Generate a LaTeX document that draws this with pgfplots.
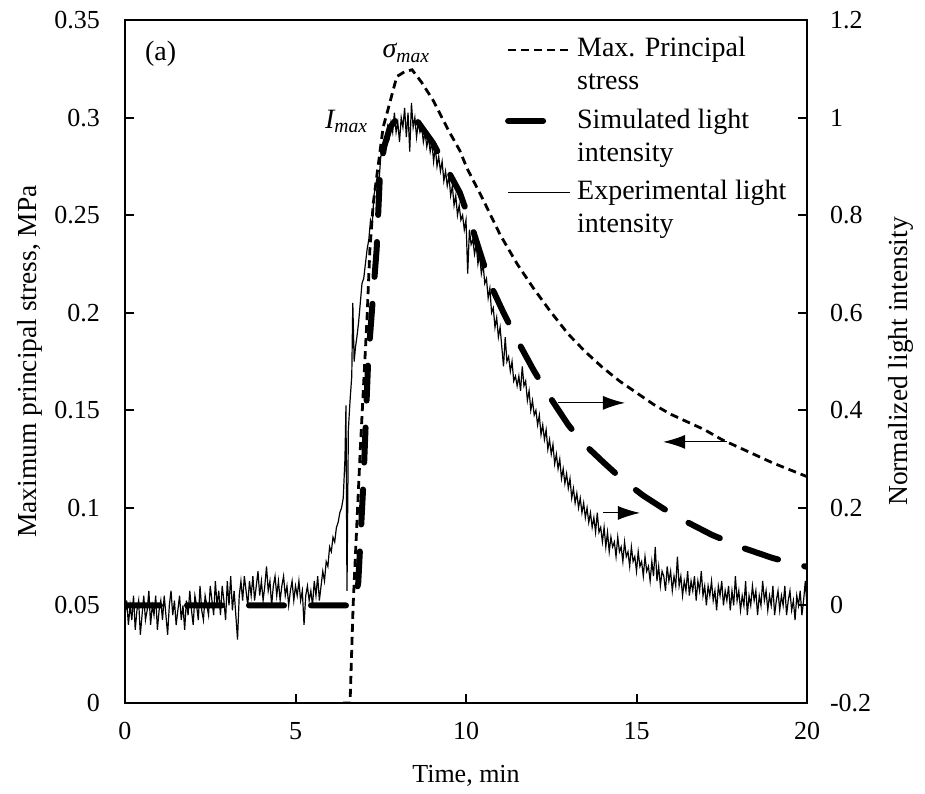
\documentclass[border=0pt]{standalone}
\usepackage{fontspec}
\setmainfont{Liberation Serif}
\usepackage{pgfplots}
\usepackage{pgfplotstable}
\pgfplotsset{compat=1.18}
\usetikzlibrary{arrows.meta}

\pgfplotstableread{
t s
6.40 0.0
6.60 0.0
6.69 0.05
6.90 0.13
7.10 0.198
7.18 0.232
7.28 0.256
7.57 0.295
7.71 0.304
7.97 0.321
8.20 0.3235
8.42 0.3245
8.70 0.318
9.03 0.309
9.50 0.293
9.82 0.283
10.03 0.274
10.50 0.258
11.00 0.240
11.50 0.225
11.96 0.213
12.46 0.201
13.00 0.189
13.50 0.180
14.00 0.172
14.50 0.165
15.00 0.159
15.50 0.153
16.00 0.148
16.50 0.144
17.00 0.140
17.50 0.135
18.00 0.131
18.50 0.127
19.00 0.123
19.50 0.1195
20.00 0.116
}\stress

\pgfplotstableread{
t I
0.00 0
6.70 0
6.84 0.046
6.99 0.25
7.13 0.50
7.28 0.64
7.38 0.73
7.48 0.89
7.60 0.94
7.77 0.98
8.00 1.00
8.30 1.005
8.60 0.99
9.03 0.948
9.40 0.90
9.82 0.846
10.20 0.77
10.70 0.66
11.10 0.60
11.50 0.544
12.00 0.48
12.46 0.427
13.00 0.37
13.43 0.333
14.02 0.294
14.60 0.257
15.20 0.225
15.80 0.198
16.48 0.171
17.20 0.145
18.12 0.118
19.00 0.097
20.00 0.079
}\simul

\pgfplotstableread{
t I
0.00 -0.02
0.05 0.01
0.10 -0.04
0.15 0.00
0.20 -0.03
0.25 0.02
0.30 -0.05
0.35 -0.01
0.40 0.01
0.45 -0.06
0.50 -0.02
0.55 0.02
0.60 -0.03
0.65 -0.01
0.70 0.03
0.75 -0.04
0.80 0.00
0.85 -0.02
0.90 0.02
0.95 -0.05
1.00 -0.01
1.05 0.01
1.10 -0.03
1.15 0.02
1.20 -0.02
1.25 -0.06
1.30 0.00
1.35 0.03
1.40 -0.02
1.45 0.01
1.50 -0.04
1.55 -0.01
1.60 0.02
1.65 -0.03
1.70 0.00
1.75 -0.05
1.80 0.01
1.85 -0.02
1.90 0.03
1.95 -0.01
2.00 -0.04
2.05 0.02
2.10 0.00
2.15 -0.03
2.20 0.04
2.25 -0.01
2.30 -0.03
2.35 0.02
2.40 0.00
2.45 -0.02
2.50 0.04
2.55 0.01
2.60 -0.02
2.65 0.05
2.70 0.00
2.75 0.03
2.80 -0.02
2.85 0.04
2.90 0.01
2.95 -0.03
3.00 0.05
3.05 0.00
3.10 0.06
3.15 -0.01
3.20 0.03
3.25 -0.02
3.30 -0.07
3.35 0.02
3.40 0.05
3.45 0.01
3.50 0.06
3.55 0.03
3.60 0.00
3.65 0.05
3.70 0.02
3.75 0.06
3.80 0.01
3.85 0.04
3.90 0.07
3.95 0.02
4.00 0.05
4.05 0.01
4.10 0.04
4.15 0.08
4.20 0.03
4.25 0.05
4.30 0.00
4.35 0.04
4.40 0.06
4.45 0.02
4.50 0.05
4.55 0.01
4.60 0.04
4.65 0.06
4.70 0.02
4.75 0.04
4.80 0.00
4.85 0.03
4.90 0.05
4.95 0.01
5.00 0.04
5.05 0.02
5.10 0.05
5.15 0.01
5.20 0.03
5.25 -0.04
5.30 0.02
5.35 0.04
5.40 0.01
5.45 0.03
5.50 0.00
5.55 0.05
5.60 0.02
5.65 0.06
5.70 0.01
5.75 0.04
5.80 0.07
5.85 0.05
5.90 0.09
5.95 0.08
6.00 0.12
6.05 0.11
6.10 0.14
6.15 0.13
6.20 0.16
6.25 0.17
6.30 0.19
6.35 0.20
6.40 0.22
6.45 0.30
6.48 0.41
6.51 0.03
6.55 0.36
6.60 0.42
6.65 0.47
6.68 0.62
6.72 0.50
6.76 0.53
6.80 0.55
6.85 0.58
6.90 0.62
6.95 0.66
7.00 0.67
7.05 0.70
7.10 0.73
7.15 0.75
7.20 0.79
7.25 0.78
7.30 0.84
7.35 0.86
7.40 0.88
7.45 0.87
7.50 0.92
7.55 0.93
7.60 0.95
7.65 0.94
7.70 0.98
7.75 0.96
7.80 0.99
7.85 0.97
7.90 1.01
7.95 0.97
8.00 0.99
8.05 0.95
8.10 1.00
8.15 0.98
8.20 1.02
8.25 0.96
8.30 1.01
8.35 0.93
8.40 1.03
8.45 0.98
8.50 1.00
8.55 0.96
8.60 0.99
8.65 0.97
8.70 0.98
8.75 0.95
8.80 0.97
8.85 0.94
8.90 0.96
8.95 0.93
9.00 0.95
9.05 0.91
9.10 0.94
9.15 0.90
9.20 0.92
9.25 0.89
9.30 0.91
9.35 0.87
9.40 0.89
9.45 0.86
9.50 0.88
9.55 0.84
9.60 0.86
9.65 0.82
9.70 0.84
9.75 0.80
9.80 0.82
9.85 0.79
9.90 0.80
9.95 0.77
10.00 0.79
10.05 0.68
10.10 0.77
10.15 0.74
10.20 0.75
10.25 0.72
10.30 0.74
10.35 0.70
10.40 0.72
10.45 0.68
10.50 0.70
10.55 0.66
10.60 0.67
10.65 0.63
10.70 0.65
10.75 0.60
10.80 0.61
10.85 0.57
10.90 0.59
10.95 0.55
11.00 0.57
11.05 0.53
11.10 0.49
11.15 0.55
11.20 0.50
11.25 0.51
11.30 0.48
11.35 0.50
11.40 0.46
11.45 0.47
11.50 0.45
11.55 0.47
11.60 0.44
11.65 0.49
11.70 0.45
11.75 0.46
11.80 0.42
11.85 0.44
11.90 0.40
11.95 0.42
12.00 0.39
12.05 0.40
12.10 0.37
12.15 0.39
12.20 0.35
12.25 0.37
12.30 0.34
12.35 0.36
12.40 0.32
12.45 0.34
12.50 0.31
12.55 0.33
12.60 0.29
12.65 0.31
12.70 0.28
12.75 0.30
12.80 0.26
12.85 0.28
12.90 0.25
12.95 0.27
13.00 0.24
13.05 0.26
13.10 0.22
13.15 0.24
13.20 0.21
13.25 0.23
13.30 0.20
13.35 0.22
13.40 0.19
13.45 0.21
13.50 0.18
13.55 0.20
13.60 0.17
13.65 0.19
13.70 0.16
13.75 0.18
13.80 0.15
13.85 0.19
13.90 0.15
13.95 0.16
14.00 0.13
14.05 0.16
14.10 0.12
14.15 0.15
14.20 0.11
14.25 0.14
14.30 0.12
14.35 0.13
14.40 0.10
14.45 0.14
14.50 0.11
14.55 0.12
14.60 0.09
14.65 0.13
14.70 0.10
14.75 0.11
14.80 0.08
14.85 0.12
14.90 0.09
14.95 0.10
15.00 0.07
15.05 0.11
15.10 0.08
15.15 0.09
15.20 0.06
15.25 0.10
15.30 0.07
15.35 0.08
15.40 0.05
15.45 0.09
15.50 0.06
15.55 0.12
15.60 0.05
15.65 0.08
15.70 0.04
15.75 0.07
15.80 0.06
15.85 0.03
15.90 0.08
15.95 0.05
16.00 0.07
16.05 0.03
16.10 0.06
16.15 0.04
16.20 0.10
16.25 0.04
16.30 0.06
16.35 0.02
16.40 0.05
16.45 0.03
16.50 0.07
16.55 0.02
16.60 0.05
16.65 0.03
16.70 0.06
16.75 0.01
16.80 0.05
16.85 0.03
16.90 0.07
16.95 0.02
17.00 0.04
17.05 0.00
17.10 0.04
17.15 0.02
17.20 0.05
17.25 0.01
17.30 0.03
17.35 -0.01
17.40 0.04
17.45 0.02
17.50 0.05
17.55 0.00
17.60 0.03
17.65 0.01
17.70 0.04
17.75 -0.01
17.80 0.03
17.85 0.00
17.90 0.06
17.95 0.01
18.00 0.03
18.05 -0.01
18.10 0.02
18.15 0.00
18.20 0.05
18.25 -0.02
18.30 0.02
18.35 0.00
18.40 0.04
18.45 0.01
18.50 0.03
18.55 -0.02
18.60 0.02
18.65 0.00
18.70 0.05
18.75 0.01
18.80 0.03
18.85 -0.01
18.90 0.02
18.95 0.00
19.00 0.04
19.05 -0.02
19.10 0.01
19.15 0.03
19.20 -0.01
19.25 0.02
19.30 0.00
19.35 0.04
19.40 -0.02
19.45 0.01
19.50 0.03
19.55 -0.01
19.60 0.01
19.65 -0.03
19.70 0.02
19.75 0.00
19.80 0.03
19.85 -0.02
19.90 0.01
19.95 0.05
20.00 0.00
}\expdata

\begin{document}
\begin{tikzpicture}[font=\fontsize{13}{16.5}\selectfont]
\pgfplotsset{
  common/.style={
    scale only axis, width=341pt, height=341.5pt,
    xmin=0, xmax=20,
    tick align=inside,
    major tick length=4.5pt,
    tick style={line width=1pt, black},
    axis line style={line width=1.2pt},
    every tick label/.append style={font=\fontsize{13}{15}\selectfont},
    label style={font=\fontsize{13.75}{16}\selectfont},
  },
}
\begin{axis}[common, name=main,
  ymin=0, ymax=0.35,
  xtick={0,5,10,15,20}, xticklabels={0,5,10,15,20},
  ytick={0,0.05,0.1,0.15,0.2,0.25,0.3,0.35},
  yticklabels={0,0.05,0.1,0.15,0.2,0.25,0.3,0.35},
  xtick pos=bottom, ytick pos=left,
  xticklabel style={yshift=-6pt},
  yticklabel style={xshift=-9pt},
  xlabel={Time, min},
  ylabel={Maximum principal stress, MPa},
  xlabel style={at={(axis description cs:0.5,-0.116)}, anchor=base, font=\fontsize{13}{15}\selectfont},
  ylabel style={at={(axis description cs:-0.139,0.5)}, anchor=center},
]
\addplot[black, line width=1.4pt, dash pattern=on 4pt off 2.5pt] table[x=t,y=s] {\stress};
\node[anchor=base west, font=\fontsize{14}{16}\selectfont] at (axis cs:0.38,0.329) {(a)};
\node[anchor=base, font=\fontsize{14}{16}\selectfont] at (axis cs:8.25,0.3306) {\itshape σ\textsubscript{max}};
\node[anchor=base, font=\fontsize{14}{16}\selectfont] at (axis cs:6.5,0.2945) {\itshape I\textsubscript{max}};
\draw[-{Latex[length=11pt,width=7pt]}, line width=0.5pt] (axis cs:12.70,0.1538) -- (axis cs:14.66,0.1538);
\draw[-{Latex[length=11pt,width=7pt]}, line width=0.5pt] (axis cs:17.65,0.1338) -- (axis cs:15.78,0.1338);
\draw[-{Latex[length=11pt,width=7pt]}, line width=0.5pt] (axis cs:14.02,0.0974) -- (axis cs:15.10,0.0974);
\end{axis}
\begin{axis}[common,
  ymin=-0.2, ymax=1.2,
  axis x line=none, axis y line*=right,
  ytick={-0.2,0,0.2,0.4,0.6,0.8,1,1.2},
  yticklabels={-0.2,0,0.2,0.4,0.6,0.8,1,1.2},
  yticklabel style={xshift=8pt},
  ylabel={Normalized light intensity},
  ylabel style={at={(axis description cs:1.137,0.5)}, anchor=center, rotate=0},
  legend image code/.code={\draw[#1] (0pt,3.5pt) -- (31pt,3.5pt);},
  legend style={draw=none, fill=none, at={(rel axis cs:0.548,0.992)}, anchor=north west,
    cells={anchor=base west}, row sep=18.5pt, font=\fontsize{14}{16.5}\selectfont},
]
\addlegendimage{black, line width=1.4pt, dash pattern=on 4pt off 2.5pt}
\addlegendentry{\begin{tabular}[t]{@{}l@{}}Max. Principal\\stress\end{tabular}}
\addplot[black, line width=3pt, line cap=round, dash pattern=on 17.5pt off 13.5pt] table[x=t,y=I] {\simul};
\addlegendentry{\begin{tabular}[t]{@{}l@{}}Simulated light\\intensity\end{tabular}}
\addplot[black, line width=0.6pt] table[x=t,y=I] {\expdata};
\addlegendentry{\begin{tabular}[t]{@{}l@{}}Experimental light\\intensity\end{tabular}}
\end{axis}
\path ([xshift=-62.5pt,yshift=-45pt]main.south west) rectangle ([xshift=59pt,yshift=10pt]main.north east);
\end{tikzpicture}
\end{document}
